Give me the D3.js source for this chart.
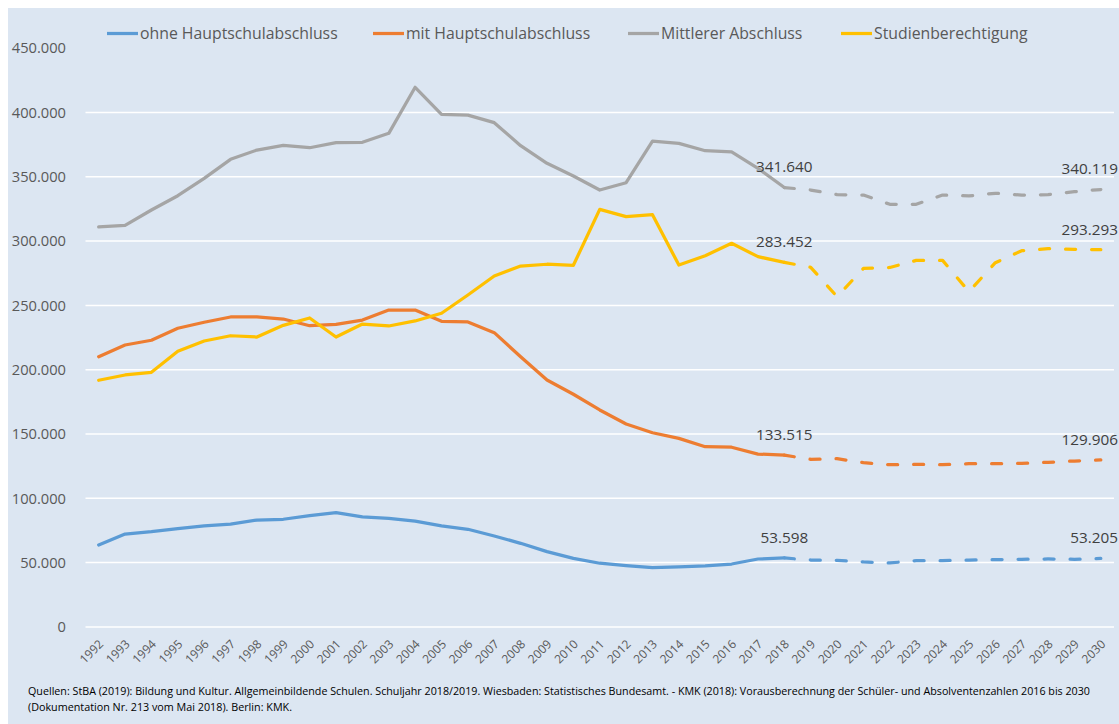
<!DOCTYPE html>
<html>
<head>
<meta charset="utf-8">
<script src="https://cdn.jsdelivr.net/npm/d3@7"></script>
<style>
  html, body { margin: 0; padding: 0; background: #ffffff; }
  svg { display: block; }
  text { font-family: "Open Sans", "Noto Sans", sans-serif; }
</style>
</head>
<body>
<svg id="chart" width="1119" height="724"></svg>
<script>
// ---------- data ----------
const years = d3.range(1992, 2031).map(String);
const yTicks = [0, 50000, 100000, 150000, 200000, 250000, 300000, 350000, 400000, 450000];
const seriesNames = ["ohne Hauptschulabschluss", "mit Hauptschulabschluss", "Mittlerer Abschluss", "Studienberechtigung"];
const seriesColors = ["#5B9BD5", "#ED7D31", "#A5A5A5", "#FFC000"];
const lastActualYear = "2018";

const ohneHS = [63700, 72200, 74000, 76400, 78500, 80000, 83100, 83700, 86500, 88800,
  85500, 84400, 82300, 78500, 75900, 70700, 65000, 58500, 53300, 49500,
  47600, 46000, 46600, 47400, 48900, 52800, 53598, 52000, 51800, 50500,
  49700, 51500, 51500, 52000, 52300, 52600, 52800, 52600, 53205];
const mitHS = [210100, 219200, 222900, 232200, 236900, 241000, 241000, 239400, 234200, 235300,
  238600, 246400, 246400, 237600, 237100, 228800, 210100, 192000, 180900, 168700,
  157800, 151000, 146600, 140100, 139700, 134400, 133515, 130300, 130800, 127700,
  126100, 126400, 126100, 126900, 126900, 127200, 128000, 129000, 129906];
const mittlerer = [311000, 312300, 324200, 335300, 348800, 363600, 370800, 374500, 372600, 376500,
  376800, 383800, 419600, 398600, 398000, 392100, 374200, 360500, 350600, 339700,
  345400, 377800, 376000, 370300, 369300, 356600, 341640, 339700, 336100, 335800,
  328600, 328600, 335800, 335100, 337200, 335800, 336100, 338400, 340119];
const studien = [191800, 195900, 198000, 214300, 222300, 226400, 225400, 234500, 240200, 225400,
  235500, 234000, 237900, 243900, 258100, 272900, 280600, 282000, 281200, 324700,
  319000, 320500, 281400, 288600, 298300, 287900, 283452, 279600, 256800, 278800,
  279500, 285000, 285000, 260700, 283200, 292500, 294100, 293600, 293293];
const seriesValues = [ohneHS, mitHS, mittlerer, studien];

const footnoteLines = [
  "Quellen: StBA (2019): Bildung und Kultur. Allgemeinbildende Schulen. Schuljahr 2018/2019. Wiesbaden: Statistisches Bundesamt. - KMK (2018): Vorausberechnung der Schüler- und Absolventenzahlen 2016 bis 2030",
  "(Dokumentation Nr. 213 vom Mai 2018). Berlin: KMK."
];

// ---------- layout ----------
const W = 1119, H = 724;
const plot = { left: 85.5, right: 1114, top: 48.2, bottom: 626.9 };
const de = d3.formatLocale({ decimal: ",", thousands: ".", grouping: [3], currency: ["", " €"] });
const fmt = de.format(",");

const svg = d3.select("#chart");
svg.append("rect").attr("x", 8).attr("y", 8).attr("width", W - 8).attr("height", H - 8).attr("fill", "#DCE6F2");

const x = d3.scalePoint().domain(years).range([plot.left, plot.right]).padding(0.5);
const y = d3.scaleLinear().domain([0, 450000]).range([plot.bottom, plot.top]);

// gridlines (no line at the top value)
svg.append("g").selectAll("line").data(yTicks.filter(d => d < 450000)).join("line")
  .attr("x1", plot.left).attr("x2", plot.right)
  .attr("y1", d => y(d)).attr("y2", d => y(d))
  .attr("stroke", "#ffffff").attr("stroke-width", 1.5);

// y axis
const yAxis = svg.append("g").attr("transform", `translate(66,0)`)
  .call(d3.axisLeft(y).tickValues(yTicks).tickFormat(fmt).tickSize(0).tickPadding(0));
yAxis.select(".domain").remove();
yAxis.selectAll("text").attr("fill", "#595959").style("font-size", "14.7px")
  .style("font-family", '"Open Sans", sans-serif');

// x axis
const xAxis = svg.append("g").attr("transform", `translate(0,${plot.bottom})`)
  .call(d3.axisBottom(x).tickSize(0).tickPadding(0));
xAxis.select(".domain").remove();
xAxis.selectAll("text")
  .attr("fill", "#595959").style("font-size", "12px")
  .attr("text-anchor", "end")
  .attr("y", 0).attr("dy", "0.35em")
  .attr("transform", "translate(2,15) rotate(-45)");

// lines
const line = d3.line().x(d => x(d.year)).y(d => y(d.value));
const splitIdx = years.indexOf(lastActualYear);
seriesValues.forEach((vals, i) => {
  const pts = vals.map((v, j) => ({ year: years[j], value: v }));
  svg.append("path").datum(pts.slice(0, splitIdx + 1))
    .attr("d", line).attr("fill", "none").attr("stroke", seriesColors[i])
    .attr("stroke-width", 3.25).attr("stroke-linejoin", "round").attr("stroke-linecap", "round");
  svg.append("path").datum(pts.slice(splitIdx))
    .attr("d", line).attr("fill", "none").attr("stroke", seriesColors[i])
    .attr("stroke-width", 3.25).attr("stroke-linejoin", "round").attr("stroke-linecap", "round")
    .attr("stroke-dasharray", "10,16");
});

// data labels (last actual & last projected)
seriesValues.forEach((vals, i) => {
  svg.append("text")
    .attr("x", x(lastActualYear)).attr("y", y(vals[splitIdx]) - 20.5).attr("dy", "0.35em")
    .attr("text-anchor", "middle").attr("fill", "#404040").style("font-size", "15.3px")
    .text(fmt(vals[splitIdx]));
  svg.append("text")
    .attr("x", W - 1).attr("y", y(vals[vals.length - 1]) - 20.5).attr("dy", "0.35em")
    .attr("text-anchor", "end").attr("fill", "#404040").style("font-size", "15.3px")
    .text(fmt(vals[vals.length - 1]));
});

// legend
const legendX = [107, 373, 628, 841];
const legend = svg.append("g");
seriesNames.forEach((name, i) => {
  legend.append("line").attr("x1", legendX[i]).attr("x2", legendX[i] + 31)
    .attr("y1", 33.5).attr("y2", 33.5).attr("stroke", seriesColors[i]).attr("stroke-width", 3.25);
  legend.append("text").attr("x", legendX[i] + 33).attr("y", 33.5).attr("dy", "0.35em")
    .attr("fill", "#595959").style("font-size", "15.8px").text(name);
});

// footnote
svg.append("text").attr("x", 28).attr("y", 695).attr("fill", "#000000")
  .style("font-size", "10.5px").attr("textLength", 1062).attr("lengthAdjust", "spacingAndGlyphs")
  .text(footnoteLines[0]);
svg.append("text").attr("x", 28).attr("y", 711).attr("fill", "#000000")
  .style("font-size", "10.5px").attr("textLength", 264).attr("lengthAdjust", "spacingAndGlyphs")
  .text(footnoteLines[1]);
</script>
</body>
</html>
